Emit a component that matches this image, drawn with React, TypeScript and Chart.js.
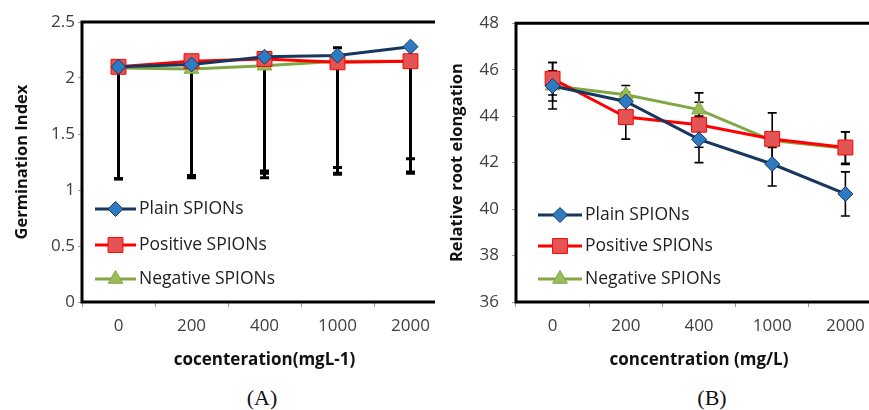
import React, { useEffect, useRef } from 'react';
import { Chart, registerables } from 'chart.js';
Chart.register(...registerables);

const categories = ['0', '200', '400', '1000', '2000'];
const seriesNames = ['Plain SPIONs', 'Positive SPIONs', 'Negative SPIONs'];

// Panel A – Germination Index
const germPlain = [2.1, 2.12, 2.19, 2.2, 2.28];
const germPositive = [2.1, 2.15, 2.17, 2.14, 2.15];
const germNegative = [2.09, 2.08, 2.11, 2.15, 2.15];
const germPlainLow = [1.1, 1.13, 1.17, 1.2, 1.28];
const germPlainHigh = [null, null, null, 2.27, null];
const germPositiveLow = [1.1, 1.11, 1.15, 1.15, 1.16];
const germNegativeLow = [1.1, 1.12, 1.11, 1.14, 1.15];

// Panel B – Relative root elongation
const rootPlain = [45.3, 44.63, 43.0, 41.94, 40.65];
const rootPositive = [45.61, 43.96, 43.63, 43.02, 42.65];
const rootNegative = [45.31, 44.92, 44.28, 42.95, 42.62];
const rootPlainErr = [0.65, 0.4, 1.0, 0.95, 0.95];
const rootPositiveErr = [0.7, 0.95, 0.97, 1.12, 0.68];
const rootNegativeErr = [1.0, 0.4, 0.72, 0.3, 0.7];

const FONT = "'Open Sans', sans-serif";
const TICK_COLOR = '#404040';

const styles = [
  { line: '#17375E', fill: '#2E7BC4', border: '#17375E', pointStyle: 'rectRot', radius: 7.5 },
  { line: '#FF0000', fill: '#E35555', border: '#FF0000', pointStyle: 'rect', radius: 10.5 },
  { line: '#7FA845', fill: '#9BBB59', border: '#7FA845', pointStyle: 'triangle', radius: 8.5 },
];

function drawMarker(ctx: CanvasRenderingContext2D, style: string, x: number, y: number, r: number) {
  ctx.beginPath();
  if (style === 'rectRot') {
    ctx.moveTo(x, y - r); ctx.lineTo(x + r, y); ctx.lineTo(x, y + r); ctx.lineTo(x - r, y);
  } else if (style === 'rect') {
    const s = r * Math.SQRT1_2;
    ctx.rect(x - s, y - s, 2 * s, 2 * s);
  } else {
    const h = r * 1.5;
    const w = r * Math.sqrt(3) / 2;
    ctx.moveTo(x, y - r); ctx.lineTo(x + w, y + h - r); ctx.lineTo(x - w, y + h - r);
  }
  ctx.closePath();
  ctx.fill();
  ctx.stroke();
}

const errorBarPlugin = {
  id: 'errBars',
  beforeDatasetsDraw(chart: any, _args: any, opts: any) {
    const { ctx, chartArea } = chart;
    const yScale = chart.scales.y;
    ctx.save();
    ctx.beginPath();
    ctx.rect(chartArea.left, chartArea.top - 2, chartArea.right - chartArea.left, chartArea.bottom - chartArea.top + 4);
    ctx.clip();
    ctx.strokeStyle = '#000';
    ctx.lineWidth = opts.lineWidth || 2;
    const cap = opts.cap || 4.5;
    chart.data.datasets.forEach((ds: any, di: number) => {
      const meta = chart.getDatasetMeta(di);
      meta.data.forEach((pt: any, i: number) => {
        const v = ds.data[i];
        const lo = ds.errLow ? ds.errLow[i] : null;
        const hi = ds.errHigh ? ds.errHigh[i] : null;
        const yLo = lo != null ? yScale.getPixelForValue(lo) : yScale.getPixelForValue(v);
        const yHi = hi != null ? yScale.getPixelForValue(hi) : yScale.getPixelForValue(v);
        ctx.beginPath();
        ctx.moveTo(pt.x, yLo);
        ctx.lineTo(pt.x, yHi);
        if (lo != null) { ctx.moveTo(pt.x - cap, yLo); ctx.lineTo(pt.x + cap, yLo); }
        if (hi != null) { ctx.moveTo(pt.x - cap, yHi); ctx.lineTo(pt.x + cap, yHi); }
        ctx.stroke();
      });
    });
    ctx.restore();
  },
};

const framePlugin = {
  id: 'frame',
  afterDraw(chart: any) {
    const { ctx, chartArea } = chart;
    ctx.save();
    ctx.strokeStyle = '#000';
    ctx.lineWidth = 3;
    ctx.beginPath();
    ctx.moveTo(chartArea.right + 5, chartArea.top);
    ctx.lineTo(chartArea.left, chartArea.top);
    ctx.lineTo(chartArea.left, chartArea.bottom);
    ctx.lineTo(chartArea.right + 5, chartArea.bottom);
    ctx.stroke();
    ctx.restore();
  },
};

const legendPlugin = {
  id: 'inLegend',
  afterDraw(chart: any, _args: any, opts: any) {
    const { ctx, chartArea } = chart;
    ctx.save();
    ctx.font = `17.5px ${FONT}`;
    ctx.textBaseline = 'middle';
    ctx.textAlign = 'left';
    chart.data.datasets.forEach((ds: any, i: number) => {
      const y = chartArea.bottom - opts.rows[i];
      const x0 = chartArea.left + opts.lineStart;
      const x1 = chartArea.left + opts.lineEnd;
      ctx.strokeStyle = ds.borderColor;
      ctx.lineWidth = 3;
      ctx.beginPath();
      ctx.moveTo(x0, y); ctx.lineTo(x1, y);
      ctx.stroke();
      ctx.fillStyle = ds.pointBackgroundColor;
      ctx.strokeStyle = ds.pointBorderColor;
      ctx.lineWidth = 1;
      drawMarker(ctx, ds.pointStyle, (x0 + x1) / 2, y, ds.pointRadius);
      ctx.fillStyle = '#222';
      ctx.fillText(ds.label, x1 + 3, y);
    });
    ctx.restore();
  },
};

function makeDatasets(values: number[][], lows: any[], highs: any[]) {
  return values.map((vals, i) => ({
    label: seriesNames[i],
    data: vals,
    errLow: lows[i],
    errHigh: highs[i],
    borderColor: styles[i].line,
    backgroundColor: styles[i].line,
    pointBackgroundColor: styles[i].fill,
    pointBorderColor: styles[i].border,
    pointBorderWidth: 1,
    pointStyle: styles[i].pointStyle,
    pointRadius: styles[i].radius,
    borderWidth: 3,
    tension: 0,
  }));
}

interface PanelProps {
  datasets: any[];
  yMin: number; yMax: number; yStep: number;
  yTitle: string; xTitle: string;
  axisWidth: number; yTickPad: number;
  legend: any;
  errWidth: number;
}

function Panel(p: PanelProps) {
  const ref = useRef<HTMLCanvasElement>(null);
  useEffect(() => {
    const chart = new Chart(ref.current as HTMLCanvasElement, {
      type: 'line',
      data: { labels: categories, datasets: p.datasets },
      plugins: [errorBarPlugin, framePlugin, legendPlugin],
      options: {
        animation: false,
        responsive: false,
        layout: { padding: { top: 22, left: 0, right: 13, bottom: 0 } },
        plugins: {
          legend: { display: false },
          tooltip: { enabled: false },
          errBars: { lineWidth: p.errWidth, cap: 4.5 },
          inLegend: p.legend,
        } as any,
        scales: {
          x: {
            type: 'category',
            offset: true,
            grid: { offset: true, drawOnChartArea: false, drawTicks: true, tickLength: 5, color: '#999' },
            border: { display: false },
            ticks: { color: TICK_COLOR, font: { family: FONT, size: 17 }, padding: 9, maxRotation: 0 },
            title: { display: true, text: p.xTitle, color: '#111', font: { family: FONT, size: 17, weight: 'bold' }, padding: { top: 0, bottom: 5 } },
            afterFit: (s: any) => { s.height = 73; },
          },
          y: {
            min: p.yMin, max: p.yMax,
            ticks: {
              stepSize: p.yStep, color: TICK_COLOR, font: { family: FONT, size: 17 }, padding: p.yTickPad,
              callback: (v: any) => String(Math.round(Number(v) * 100) / 100),
            },
            grid: { drawOnChartArea: false, drawTicks: true, tickLength: 4, color: '#999' },
            border: { display: false },
            title: { display: true, text: p.yTitle, color: '#111', font: { family: FONT, size: 16.5, weight: 'bold' }, padding: { top: 12, bottom: 0 } },
            afterFit: (s: any) => { s.width = p.axisWidth; },
          },
        },
      } as any,
    });
    return () => chart.destroy();
  }, []);
  return <canvas ref={ref} width={460} height={375} style={{ display: 'block' }} />;
}

export default function App() {
  const dsA = makeDatasets(
    [germPlain, germPositive, germNegative],
    [germPlainLow, germPositiveLow, germNegativeLow],
    [germPlainHigh, null, null],
  );
  const mkErr = (v: number[], e: number[], sign: number) => v.map((x, i) => x + sign * e[i]);
  const dsB = makeDatasets(
    [rootPlain, rootPositive, rootNegative],
    [mkErr(rootPlain, rootPlainErr, -1), mkErr(rootPositive, rootPositiveErr, -1), mkErr(rootNegative, rootNegativeErr, -1)],
    [mkErr(rootPlain, rootPlainErr, 1), mkErr(rootPositive, rootPositiveErr, 1), mkErr(rootNegative, rootNegativeErr, 1)],
  );
  const caption: React.CSSProperties = {
    position: 'absolute', top: 385, fontFamily: "'Liberation Serif', serif", fontSize: 22, lineHeight: '26px', color: '#111',
    transform: 'translateX(-50%)', whiteSpace: 'nowrap',
  };
  return (
    <div style={{ position: 'fixed', left: 0, top: 0, width: 869, height: 410, background: '#fff', overflow: 'hidden' }}>
      <div style={{ position: 'absolute', left: 0, top: 0, width: 435, height: 380, overflow: 'hidden' }}>
        <Panel datasets={dsA} yMin={0} yMax={2.5} yStep={0.5}
          yTitle="Germination Index" xTitle="cocenteration(mgL-1)"
          axisWidth={82} yTickPad={3} errWidth={3}
          legend={{ lineStart: 13, lineEnd: 54, rows: [93, 57, 23] }} />
      </div>
      <div style={{ position: 'absolute', left: 435, top: 0, width: 434, height: 380, overflow: 'hidden' }}>
        <Panel datasets={dsB} yMin={36} yMax={48} yStep={2}
          yTitle="Relative root elongation" xTitle="concentration (mg/L)"
          axisWidth={81} yTickPad={13} errWidth={1.6}
          legend={{ lineStart: 22, lineEnd: 66, rows: [87, 56, 23] }} />
      </div>
      <div style={{ ...caption, left: 262 }}>(A)</div>
      <div style={{ ...caption, left: 712 }}>(B)</div>
    </div>
  );
}
